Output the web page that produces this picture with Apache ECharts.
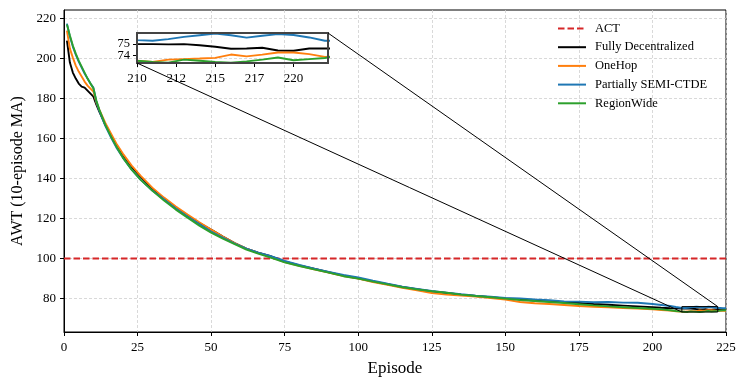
<!DOCTYPE html>
<html>
<head>
<meta charset="utf-8">
<script src="https://cdn.jsdelivr.net/npm/echarts@6/dist/echarts.min.js"></script>
<style>
  html, body { margin: 0; padding: 0; background: #fff; }
  #main { width: 747px; height: 387px; }
</style>
</head>
<body>
<div id="main"></div>
<script>
// episodes (x) shared by every run, 10-episode moving average of AWT
const episodes = [1, 2, 3, 4, 5, 6, 7, 8, 9, 10, 11, 12, 14, 16, 18, 20, 23, 26,
  30, 34, 38, 42, 46, 50, 54, 58, 62, 66, 70, 75, 80, 85, 90, 95, 100, 105, 110,
  115, 120, 125, 130, 135, 140, 145, 150, 155, 160, 165, 170, 175, 180, 185, 190,
  195, 200, 203, 206, 208, 210, 211, 212, 213, 214, 215, 216, 217, 218, 219, 220,
  221, 222, 223, 224, 225];

const fullyDecentralized = [209, 198, 193, 190, 187.5, 186, 185.5, 184, 182.5, 181,
  177, 173.5, 167, 161.5, 156, 151.5, 145.8, 141, 135, 130, 125.5, 121.5, 117.8,
  114.5, 111, 107.8, 105, 103, 101.3, 98.6, 96.6, 94.9, 93.2, 91.5, 90.2, 88.6,
  87.2, 85.8, 84.7, 83.6, 82.8, 82.0, 81.3, 80.7, 80.1, 79.6, 79.0, 78.6, 78.2,
  77.8, 77.3, 76.9, 76.5, 76.1, 75.7, 75.4, 75.2, 75.1, 75.0, 75.0, 74.98, 75.0,
  74.9, 74.76, 74.58, 74.6, 74.67, 74.42, 74.4, 74.6, 74.6, 74.6, 74.7, 74.7];

const oneHop = [214, 205, 200.5, 196.5, 193.5, 191, 188.5, 186.5, 185, 183.5, 178,
  174.5, 168, 162.5, 157, 152.5, 146.5, 141.5, 135.5, 130.5, 126, 122, 118.2,
  114.5, 111, 107.8, 105, 102.8, 101, 98.3, 96.4, 94.7, 93.0, 91.3, 90.0, 88.3,
  86.9, 85.4, 84.2, 82.8, 82.0, 81.5, 81.0, 80.3, 79.5, 78.3, 77.7, 77.3, 76.8,
  76.3, 75.9, 75.6, 75.3, 75.0, 74.6, 74.3, 74.0, 73.7, 73.5, 73.4, 73.6, 73.65,
  73.7, 73.76, 74.06, 73.9, 74.05, 74.25, 74.25, 74.1, 73.85, 73.9, 73.9, 73.9];

const semiCtde = [217.5, 211, 206, 202, 198.5, 195.5, 192.5, 190, 187.5, 185.5,
  178.5, 174, 166.5, 160.5, 155, 150.5, 144.5, 139.5, 134, 129.5, 125, 121, 117.3,
  113.5, 110.5, 107.5, 105, 103, 101.3, 98.8, 96.8, 95, 93.3, 91.8, 90.6, 88.9,
  87.4, 86.0, 84.8, 83.8, 83.0, 82.2, 81.5, 80.9, 80.3, 80.1, 79.6, 79.2, 78.6,
  78.5, 78.2, 78.3, 78.0, 77.9, 77.3, 76.8, 76.3, 75.8, 75.36, 75.3, 75.45, 75.65,
  75.8, 75.95, 75.8, 75.58, 75.75, 75.9, 75.82, 75.6, 75.3, 75.3, 75.2, 75.2];

const regionWide = [217, 211.5, 206.5, 202.5, 199, 196, 193, 190, 187.5, 185, 179,
  174.5, 167, 161, 155.5, 150.5, 144.5, 139.5, 134, 129, 124.5, 120.5, 116.5, 113,
  110, 107.2, 104.5, 102.5, 100.6, 98.1, 96.3, 94.6, 93.0, 91.2, 90.0, 88.5, 87.1,
  85.7, 84.6, 83.7, 82.9, 82.0, 81.3, 80.7, 80.0, 79.3, 78.8, 78.3, 77.8, 77.2,
  76.6, 76.1, 75.7, 75.3, 74.9, 74.6, 74.2, 73.8, 73.5, 73.4, 73.33, 73.6, 73.5,
  73.4, 73.33, 73.45, 73.6, 73.8, 73.55, 73.65, 73.75, 74.0, 74.1, 74.2];

const actLevel = 100;
const actSpan = [0, 225];

const yTickValues = [80, 100, 120, 140, 160, 180, 200, 220];
const insetXTicks = [210, 212.5, 215, 217.5, 220];
const insetYTicks = [74, 75];
const insetX = [210, 222.2];
const insetY = [73.3, 76.0];

const font = "'Liberation Serif', 'DejaVu Serif', serif";
const colors = {
  act: '#d62728', fully: '#000000', onehop: '#ff7f0e', semi: '#1f77b4', region: '#2ca02c'
};

const pairs = vals => episodes.map((e, i) => [e, vals[i]]);

const runs = [
  { name: 'Fully Decentralized', data: fullyDecentralized, color: colors.fully },
  { name: 'OneHop', data: oneHop, color: colors.onehop },
  { name: 'Partially SEMI-CTDE', data: semiCtde, color: colors.semi },
  { name: 'RegionWide', data: regionWide, color: colors.region }
];

const series = [{
  name: 'ACT',
  type: 'line',
  data: actSpan.map(x => [x, actLevel]),
  symbol: 'none',
  color: colors.act,
  lineStyle: { color: colors.act, width: 2, type: [6.5, 3] },
  z: 3
}];
runs.forEach(r => {
  series.push({
    name: r.name, type: 'line', data: pairs(r.data), symbol: 'none', color: r.color,
    lineStyle: { color: r.color, width: 1.9 }, z: 4
  });
});
runs.forEach(r => {
  series.push({
    name: r.name, type: 'line', xAxisIndex: 1, yAxisIndex: 1, data: pairs(r.data),
    symbol: 'none', color: r.color, clip: true,
    lineStyle: { color: r.color, width: 1.9 }, z: 5
  });
});

const splitStyle = { show: true, lineStyle: { color: '#cfcfcf', type: [3, 2], width: 0.8 } };

// one inset y axis per label, so the two close labels are both kept
const insetYAxis = (labels, showLine) => ({
  type: 'value', gridIndex: 1, min: insetY[0], max: insetY[1], position: 'left',
  axisLine: { show: showLine, onZero: false, lineStyle: { color: '#444', width: 2 } },
  axisTick: { show: showLine, length: 4, customValues: insetYTicks, lineStyle: { color: '#000' } },
  axisLabel: { color: '#000', fontFamily: font, fontSize: 12.5, margin: 7,
    customValues: labels, showMinLabel: true, showMaxLabel: true },
  splitLine: { show: false }
});

const chart = echarts.init(document.getElementById('main'));
chart.setOption({
  animation: false,
  textStyle: { fontFamily: font },
  grid: [
    { left: 64, right: 21, top: 10, bottom: 55, show: true, borderColor: '#000',
      borderWidth: 1, backgroundColor: 'transparent' },
    { left: 137, top: 33, width: 191, height: 30, show: true, borderColor: '#444',
      borderWidth: 2, backgroundColor: 'transparent', z: 6 }
  ],
  legend: {
    orient: 'vertical', left: 552, top: 17, itemWidth: 28, itemHeight: 14, itemGap: 5.7,
    data: ['ACT', 'Fully Decentralized', 'OneHop', 'Partially SEMI-CTDE', 'RegionWide'],
    itemStyle: { opacity: 0 },
    textStyle: { fontFamily: font, fontSize: 12.5, color: '#000', padding: [0, 0, 0, 4] }
  },
  xAxis: [{
    type: 'value', gridIndex: 0, min: 0, max: 225, interval: 25,
    name: 'Episode', nameLocation: 'middle', nameGap: 28,
    nameTextStyle: { fontFamily: font, fontSize: 17, color: '#000' },
    axisLine: { onZero: false, lineStyle: { color: '#000', width: 1 } },
    axisTick: { length: 4, lineStyle: { color: '#000' } },
    axisLabel: { color: '#000', fontFamily: font, fontSize: 13, margin: 9 },
    splitLine: splitStyle
  }, {
    type: 'value', gridIndex: 1, min: insetX[0], max: insetX[1],
    axisLine: { onZero: false, lineStyle: { color: '#444', width: 2 } },
    axisTick: { length: 4, customValues: insetXTicks, lineStyle: { color: '#000' } },
    axisLabel: { color: '#000', fontFamily: font, fontSize: 13, margin: 9,
      customValues: insetXTicks, hideOverlap: false, formatter: v => String(Math.floor(v)) },
    splitLine: { show: false }
  }],
  yAxis: [{
    type: 'value', gridIndex: 0, min: 63.3, max: 224.3, splitNumber: 8,
    name: 'AWT (10-episode MA)', nameLocation: 'middle', nameGap: 38,
    nameTextStyle: { fontFamily: font, fontSize: 16, color: '#000' },
    axisLine: { show: true, onZero: false, lineStyle: { color: '#000', width: 1 } },
    axisTick: { show: true, length: 4, customValues: yTickValues, lineStyle: { color: '#000' } },
    axisLabel: { color: '#000', fontFamily: font, fontSize: 13, margin: 8,
      customValues: yTickValues },
    splitLine: splitStyle
  },
  insetYAxis([insetYTicks[0]], true),
  insetYAxis([insetYTicks[1]], false)],
  series: series
});

// zoom rectangle on the main axes and the two connector lines to the inset
const px = (g, pt) => chart.convertToPixel({ gridIndex: g }, pt);
const rLo = px(0, [insetX[0], insetY[0]]);
const rHi = px(0, [insetX[1], insetY[1]]);
const iLo = px(1, [insetX[0], insetY[0]]);
const iHi = px(1, [insetX[1], insetY[1]]);
const edge = { stroke: '#000', lineWidth: 1, fill: null };
chart.setOption({
  graphic: [
    { type: 'rect', shape: { x: rLo[0], y: rHi[1], width: rHi[0] - rLo[0], height: rLo[1] - rHi[1] },
      style: { stroke: '#000', lineWidth: 1, fill: 'transparent' }, z: 20 },
    { type: 'line', shape: { x1: iLo[0], y1: iLo[1], x2: rLo[0], y2: rLo[1] }, style: edge, z: 20 },
    { type: 'line', shape: { x1: iHi[0], y1: iHi[1], x2: rHi[0], y2: rHi[1] }, style: edge, z: 20 }
  ]
});
</script>
</body>
</html>
